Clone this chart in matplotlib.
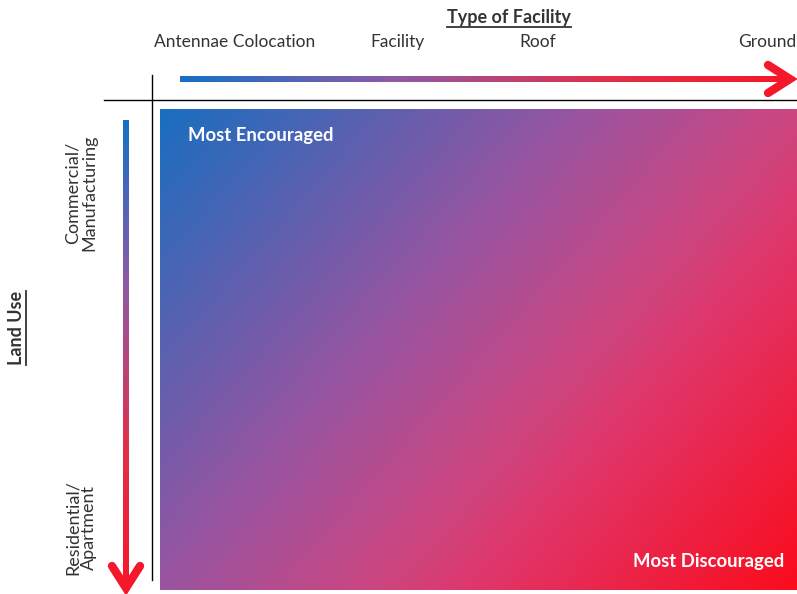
import numpy as np
import matplotlib.pyplot as plt
from matplotlib.colors import LinearSegmentedColormap

# dane
facility_types = ["Antennae Colocation", "Facility", "Roof", "Ground"]
facility_x = [235, 398, 538, 767]
land_use = ["Commercial/\nManufacturing", "Residential/\nApartment"]
land_use_y = [193, 528]
corner_labels = ["Most Encouraged", "Most Discouraged"]

plt.rcParams['font.family'] = ['Lato', 'DejaVu Sans']

W, H = 797, 594
fig = plt.figure(figsize=(W / 100, H / 100), dpi=100)
ax = fig.add_axes([0, 0, 1, 1])
ax.set_xlim(0, W)
ax.set_ylim(H, 0)
ax.axis('off')

cmap = LinearSegmentedColormap.from_list(
    "bl_rd", [(0, "#1a6ec0"), (0.4, "#9a54a0"), (0.6, "#cc4680"),
              (0.7, "#e0366a"), (1, "#fa0c1c")])
cmap_arrow = LinearSegmentedColormap.from_list(
    "bl_rd2", [(0, "#1570c6"), (0.35, "#8d5aa6"), (0.7, "#e0304a"), (1, "#f5182a")])

# duzy prostokat z gradientem
x0, x1, y0, y1 = 160, 797, 109, 590
xx, yy = np.meshgrid(np.linspace(0, 1, 300), np.linspace(0, 1, 300))
grad = 0.6 * xx + 0.4 * yy
ax.imshow(grad, cmap=cmap, extent=(x0, x1, y1, y0), aspect='auto',
          interpolation='bilinear', zorder=1)

# strzalka pozioma
g = np.linspace(0, 1, 300).reshape(1, -1)
ax.imshow(g, cmap=cmap_arrow, extent=(180, 786, 82, 76), aspect='auto', zorder=2)
ax.plot([768, 790, 768], [65, 79, 93], color="#f5182a", lw=6,
        solid_capstyle='round', solid_joinstyle='miter', zorder=3)

# strzalka pionowa
ax.imshow(g.T, cmap=cmap_arrow, extent=(123, 129, 586, 120), aspect='auto', zorder=2)
ax.plot([112, 126, 140], [566, 588, 566], color="#f5182a", lw=6,
        solid_capstyle='round', solid_joinstyle='miter', zorder=3)

# linie czarne
ax.plot([104, 797], [100, 100], color="black", lw=1, zorder=3)
ax.plot([152, 152], [75, 580], color="black", lw=1, zorder=3)

txt = "#333333"
for name, x in zip(facility_types, facility_x):
    ax.text(x, 42, name, ha='center', va='center', fontsize=12.5, color=txt)

for name, y in zip(land_use, land_use_y):
    ax.text(81, y, name, ha='center', va='center', fontsize=13, color=txt,
            rotation=90, linespacing=1.0)

t1 = ax.text(509, 17, "Type of Facility", ha='center', va='center',
             fontsize=13, fontweight='bold', color=txt)
t2 = ax.text(17, 328, "Land Use", ha='center', va='center',
             fontsize=13, fontweight='bold', color=txt, rotation=90)

ax.text(188, 136, corner_labels[0], ha='left', va='center', fontsize=13.3,
        fontweight='bold', color='white', zorder=4)
ax.text(784, 561, corner_labels[1], ha='right', va='center', fontsize=13.3,
        fontweight='bold', color='white', zorder=4)

# podkreslenia
fig.canvas.draw()
r = fig.canvas.get_renderer()
inv = ax.transData.inverted()
bb = t1.get_window_extent(r)
(a, b), (c, d) = inv.transform([[bb.x0, bb.y0], [bb.x1, bb.y1]])
ax.plot([a, c], [b + 1, b + 1], color=txt, lw=1.3)
bb = t2.get_window_extent(r)
(a, b), (c, d) = inv.transform([[bb.x0, bb.y0], [bb.x1, bb.y1]])
ax.plot([c + 1, c + 1], [b, d], color=txt, lw=1.3)

plt.savefig('out.png', dpi=100)
